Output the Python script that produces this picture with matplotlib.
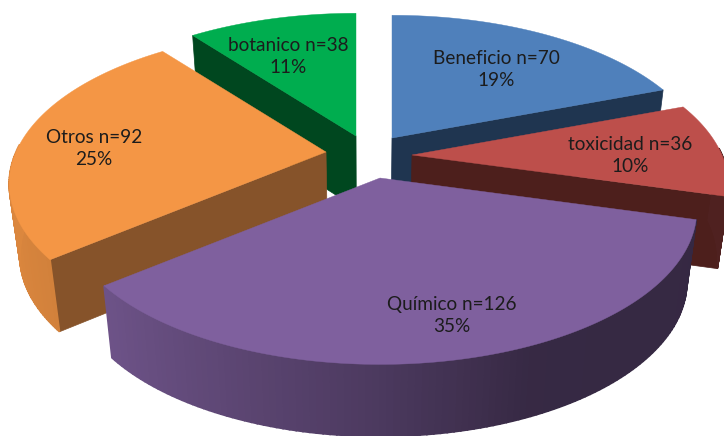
import numpy as np
import matplotlib
matplotlib.use("Agg")
import matplotlib.pyplot as plt

# Data
categories = ["Beneficio", "toxicidad", "Químico", "Otros", "botanico"]
counts = [70, 36, 126, 92, 38]
percent_labels = ["19%", "10%", "35%", "25%", "11%"]

# Style
top_colors = ["#4f80bb", "#bd4f4b", "#7f609e", "#f49645", "#00ad4f"]
cut_colors = ["#1f3550", "#4d1f1c", "#33294a", "#86532a", "#00471f"]

# Layout of the projected pie (pixels)
center_x, center_y = 366.0, 154.0
explode_x = [26, 46, 14, -40, -10]
explode_y = [-16, 1, 24, -2, -18]
radius_x, radius_y = 310.0, 148.0
perspective = 0.206
depth = 72.0
base_shrink = 0.97
label_x = [496, 630, 452, 94, 288]
label_y = [69.5, 155.5, 315.5, 148.5, 56.5]
draw_order = [4, 0, 3, 1, 2]

fig = plt.figure(figsize=(7.24, 4.36), dpi=100)
ax = fig.add_axes([0, 0, 1, 1])
ax.set_xlim(0, 724)
ax.set_ylim(436, 0)
ax.axis("off")

edges = np.cumsum([0] + counts) / np.sum(counts) * 2 * np.pi


def project(t, i):
    u, v = np.sin(t), np.cos(t)
    f = 1 + perspective * v
    ax0 = center_x + explode_x[i]
    ay0 = center_y + explode_y[i]
    return ax0 + radius_x * u / f, ay0 - radius_y * v / f


def lower(x, y):
    return center_x + (x - center_x) * base_shrink, y + depth


def wall_shade(u):
    return np.interp(u, [-1, -0.77, 0, 0.4, 1], [0.9, 0.86, 0.6, 0.43, 0.42])


def scaled(color, s):
    return tuple(c * s for c in matplotlib.colors.to_rgb(color))


for i in draw_order:
    t = np.linspace(edges[i], edges[i + 1], 120)
    xs, ys = project(t, i)
    apex = (center_x + explode_x[i], center_y + explode_y[i])
    mid_x, mid_y = project((edges[i] + edges[i + 1]) / 2, i)

    # Radial cut walls facing the viewer
    for x_end, y_end in [(xs[0], ys[0]), (xs[-1], ys[-1])]:
        if abs(x_end - apex[0]) < 5:
            continue
        line_y = apex[1] + (y_end - apex[1]) * (mid_x - apex[0]) / (x_end - apex[0])
        if mid_y < line_y:
            lx0, ly0 = lower(*apex)
            lx1, ly1 = lower(x_end, y_end)
            ax.fill([apex[0], x_end, lx1, lx0], [apex[1], y_end, ly1, ly0],
                    color=cut_colors[i], lw=0.5, zorder=1 + draw_order.index(i))

    # Outer curved wall in strips, shaded from left to right
    for k in range(len(t) - 1):
        if np.cos(t[k]) > 0.05:
            continue
        lx0, ly0 = lower(xs[k], ys[k])
        lx1, ly1 = lower(xs[k + 1], ys[k + 1])
        shade = wall_shade(np.sin(t[k]))
        ax.fill([xs[k], xs[k + 1], lx1, lx0], [ys[k], ys[k + 1], ly1, ly0],
                color=scaled(top_colors[i], shade), lw=1.2,
                zorder=1 + draw_order.index(i))

    # Top face
    ax.fill(np.r_[apex[0], xs], np.r_[apex[1], ys], color=top_colors[i], lw=0.3,
            zorder=1 + draw_order.index(i))

for i, cat in enumerate(categories):
    ax.text(label_x[i], label_y[i], f"{cat} n={counts[i]}\n{percent_labels[i]}",
            ha="center", va="center", ma="center", fontsize=13.7, family="Lato",
            color="#1c1c1c", linespacing=1.36, zorder=20)

fig.savefig("out.png", dpi=100, facecolor="white")
